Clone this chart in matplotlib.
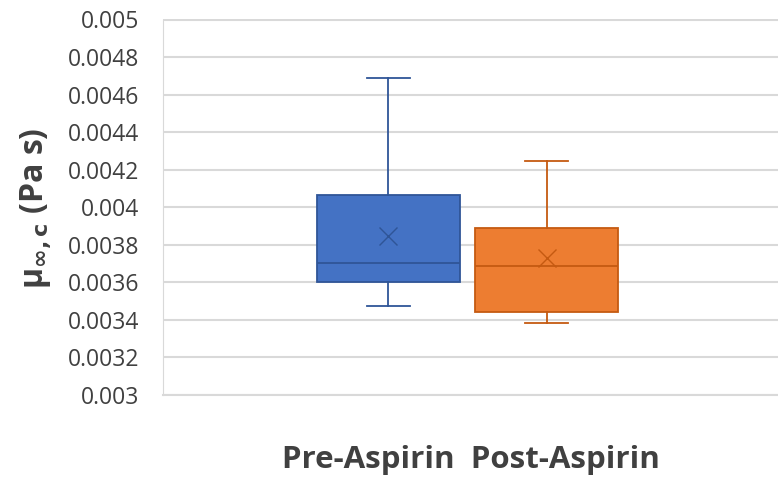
import numpy as np
import matplotlib
matplotlib.use("Agg")
import matplotlib.pyplot as plt

# Figure size (pixels at 100 dpi)
figW = 7.78
figH = 4.80

fontChoice = "Open Sans"
textColour = '#404040'
gridColour = '#D9D9D9'

plt.rcParams['font.family'] = [fontChoice, 'DejaVu Sans']
plt.rcParams['mathtext.fontset'] = 'dejavusans'

# Data
groups = ['Pre-Aspirin', 'Post-Aspirin']
whisker_low = [0.003473, 0.003383]
q1 = [0.003601, 0.003441]
median = [0.003702, 0.003686]
q3 = [0.004064, 0.003888]
whisker_high = [0.004686, 0.004245]
mean = [0.003846, 0.003729]

faceColours = ['#4472C4', '#ED7D31']
edgeColours = ['#2F5597', '#C55A11']

yTicks = np.arange(0.003, 0.00501, 0.0002)
yTickLabels = ['0.003', '0.0032', '0.0034', '0.0036', '0.0038', '0.004',
               '0.0042', '0.0044', '0.0046', '0.0048', '0.005']

fig = plt.figure(figsize=(figW, figH), dpi=100)
ax = fig.add_axes([163/778, 1-395/480, 1-163/778, (395-19.5)/480])

positions = [388, 546.5]
for i, g in enumerate(groups):
    stats = [{
        'whislo': whisker_low[i], 'q1': q1[i], 'med': median[i],
        'q3': q3[i], 'whishi': whisker_high[i], 'mean': mean[i],
        'fliers': [], 'label': g,
    }]
    ax.bxp(stats, positions=[positions[i]], widths=143, patch_artist=True,
           showmeans=True, manage_ticks=False,
           boxprops=dict(facecolor=faceColours[i], edgecolor=edgeColours[i], linewidth=1.3),
           medianprops=dict(color=edgeColours[i], linewidth=1.3),
           whiskerprops=dict(color=edgeColours[i], linewidth=1.3),
           capprops=dict(color=edgeColours[i], linewidth=1.3),
           capwidths=43,
           meanprops=dict(marker='x', markeredgecolor=edgeColours[i],
                          markersize=13, markeredgewidth=1.0, linestyle=''))

ax.set_xlim(163, 778)
ax.set_ylim(0.003, 0.005)
ax.set_yticks(yTicks)
ax.set_yticklabels(yTickLabels, fontsize=16.5, color=textColour)
ax.tick_params(axis='y', length=0, pad=17)
ax.set_xticks([471])
ax.set_xticklabels(['Pre-Aspirin  Post-Aspirin'], fontsize=22.5, fontweight='bold',
                   color='#404040')
ax.tick_params(axis='x', length=0, pad=36)

ax.grid(axis='y', color=gridColour, linewidth=1.5)
ax.set_axisbelow(True)
for s in ['top', 'right']:
    ax.spines[s].set_visible(False)
ax.spines['left'].set_color(gridColour)
ax.spines['bottom'].set_color(gridColour)
ax.spines['bottom'].set_linewidth(1.5)

fig.text(0.046, 1-208/480, r'μ$_{\mathbf{\infty,c}}$ (Pa s)', rotation=90,
         fontsize=23, fontweight='bold', color='#404040', ha='center', va='center')

fig.savefig('out.png', dpi=100)
